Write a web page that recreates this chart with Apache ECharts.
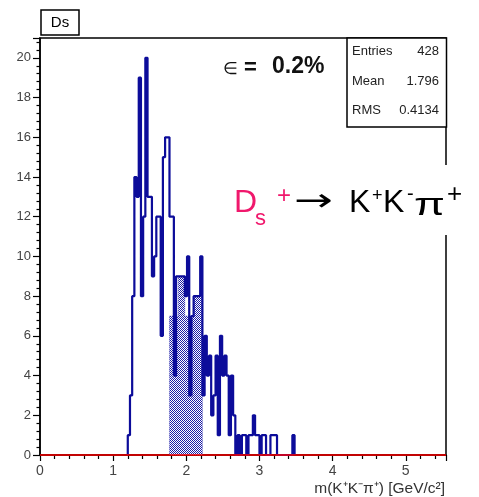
<!DOCTYPE html>
<html><head><meta charset="utf-8">
<script src="https://cdn.jsdelivr.net/npm/echarts@6/dist/echarts.min.js"></script>
<style>html,body{margin:0;padding:0;background:#fff}#c{width:479px;height:497px}</style>
</head><body><div id="c"></div>
<script>
// ---- data ----
const binStart = 1.20;      // GeV, left edge of first bin
const binWidth = 0.03;      // GeV
const allCounts = [1,3,8,14,13,19,8,12,20,13,13,9,10,12,12,6,15,16,16,12,12,4,9,9,9,9,8,10,3,7,8,8,8,10,3,6,4,5,2,3,5,1,6,4,5,4,1,4,2,0,1,0,1,1,0,1,1,2,1,1,0,1,1,0,0,1,1,1,0,0,0,0,0,0,0,1];
const sigStart = 1.77;      // GeV, left edge of first signal-window bin
const sigCounts = [7,7,7,7,9,9,9,7,7,7,7,8,8,8,8];
const xTicks = [0,1,2,3,4,5];
const yTicks = [0,2,4,6,8,10,12,14,16,18,20];
const stats = [['Entries','428'],['Mean','1.796'],['RMS','0.4134']];

function stepData(start, counts){
  const d = [[start,0]];
  counts.forEach((c,i)=>d.push([+(start+i*binWidth).toFixed(4), c]));
  d.push([+(start+counts.length*binWidth).toFixed(4), 0]);
  return d;
}

// checkered fill pattern
const pc = document.createElement('canvas'); pc.width = 2; pc.height = 2;
const pctx = pc.getContext('2d');
pctx.fillStyle = '#ffffff'; pctx.fillRect(0,0,2,2);
pctx.fillStyle = '#1c1ca6'; pctx.fillRect(0,0,1,1); pctx.fillRect(1,1,1,1);

const chart = echarts.init(document.getElementById('c'), null, {renderer:'canvas'});
const F = '"Liberation Sans", Arial, sans-serif';
const blue = '#0c0c9a';
const pink = '#f0186c';
const mid = {textVerticalAlign:'middle', verticalAlign:'middle'};

const gfx = [
  {type:'rect', z:100, shape:{x:41,y:10,width:38,height:25}, style:{fill:'#fff',stroke:'#000',lineWidth:1.5}},
  {type:'text', z:101, x:60, y:23, style:Object.assign({text:'Ds', font:'15px '+F, fill:'#000', textAlign:'center', align:'center'}, mid)},
  {type:'rect', z:100, shape:{x:347,y:38,width:99.5,height:89}, style:{fill:'#fff',stroke:'#000',lineWidth:1.5}},
  {type:'text', z:101, x:223, y:69, style:Object.assign({text:'∈', font:'17px '+F, fill:'#111'}, mid)},
  {type:'text', z:101, x:244, y:68, style:Object.assign({text:'=', font:'bold 22px '+F, fill:'#111'}, mid)},
  {type:'text', z:101, x:272, y:67, style:Object.assign({text:'0.2%', font:'bold 23px '+F, fill:'#111'}, mid)},
  {type:'rect', z:100, shape:{x:225,y:165,width:254,height:70}, style:{fill:'#fff',stroke:null}},
  {type:'text', z:101, x:234, y:203, style:Object.assign({text:'D', font:'32px '+F, fill:pink}, mid)},
  {type:'text', z:101, x:255, y:219, style:Object.assign({text:'s', font:'22px '+F, fill:pink}, mid)},
  {type:'text', z:101, x:277, y:196, style:Object.assign({text:'+', font:'24px '+F, fill:pink}, mid)},
  {type:'text', z:101, x:294, y:203, scaleX:1.45, originX:0, originY:0, style:Object.assign({text:'→', font:'32px "DejaVu Sans", sans-serif', fill:'#000'}, mid)},
  {type:'text', z:101, x:349, y:203, style:Object.assign({text:'K', font:'32px '+F, fill:'#000'}, mid)},
  {type:'text', z:101, x:372, y:196, style:Object.assign({text:'+', font:'18px '+F, fill:'#000'}, mid)},
  {type:'text', z:101, x:383, y:203, style:Object.assign({text:'K', font:'32px '+F, fill:'#000'}, mid)},
  {type:'text', z:101, x:407, y:194, style:Object.assign({text:'-', font:'20px '+F, fill:'#000'}, mid)},
  {type:'text', z:101, x:414, y:206, scaleX:1.4, originX:0, originY:0, style:Object.assign({text:'π', font:'32px '+F, fill:'#000'}, mid)},
  {type:'text', z:101, x:447, y:195, style:Object.assign({text:'+', font:'26px '+F, fill:'#000'}, mid)},
  {type:'text', z:101, x:445, y:489, style:Object.assign({text:'m(K⁺K⁻π⁺) [GeV/c²]', font:'15.5px '+F, fill:'#333', textAlign:'right', align:'right'}, mid)}
];
const rowsY = [51,81,110];
stats.forEach((r,i)=>{
  gfx.push({type:'text', z:101, x:352, y:rowsY[i], style:Object.assign({text:r[0], font:'13px '+F, fill:'#222'}, mid)});
  gfx.push({type:'text', z:101, x:439, y:rowsY[i], style:Object.assign({text:r[1], font:'13px '+F, fill:'#222', textAlign:'right', align:'right'}, mid)});
});

chart.setOption({
  animation:false,
  backgroundColor:'#fff',
  grid:{left:40, top:38, width:406, height:417, show:true, borderColor:'#000', borderWidth:1.5, backgroundColor:'transparent'},
  xAxis:{type:'value', min:xTicks[0], max:5.55, interval:1,
    axisLine:{show:true, onZero:false, lineStyle:{color:'#000', width:1.5}},
    axisTick:{show:true, inside:false, length:6, lineStyle:{color:'#000', width:1.2}},
    minorTick:{show:true, splitNumber:5, length:4, lineStyle:{color:'#000', width:1.2}},
    axisLabel:{color:'#444', fontSize:14, fontFamily:'Liberation Sans', margin:9, showMaxLabel:false,
      formatter:v=> xTicks.includes(v)? String(v):''},
    splitLine:{show:false}},
  yAxis:{type:'value', min:yTicks[0], max:21, interval:2,
    axisLine:{show:true, lineStyle:{color:'#000', width:1.5}},
    axisTick:{show:true, inside:false, length:7, lineStyle:{color:'#000', width:1.2}},
    minorTick:{show:true, splitNumber:5, length:3.5, lineStyle:{color:'#000', width:1.2}},
    axisLabel:{color:'#444', fontSize:13, fontFamily:'Liberation Sans', margin:9, showMaxLabel:false,
      formatter:v=> yTicks.includes(v)? String(v):''},
    splitLine:{show:false}},
  series:[
    {type:'line', step:'end', z:2, symbol:'none', silent:true, data:stepData(sigStart, sigCounts),
      lineStyle:{color:'#3030b0', width:0.6, type:'dotted'},
      areaStyle:{color:{image:pc, repeat:'repeat'}, opacity:1}},
    {type:'line', step:'end', z:3, symbol:'none', silent:true, data:stepData(binStart, allCounts),
      lineStyle:{color:blue, width:2.2}},
    {type:'line', z:4, data:[], silent:true,
      markLine:{silent:true, symbol:'none', label:{show:false}, animation:false,
        lineStyle:{color:'#ff0000', width:1.6, type:'solid'}, data:[{yAxis:0}]}}
  ],
  graphic:gfx
});
</script></body></html>
